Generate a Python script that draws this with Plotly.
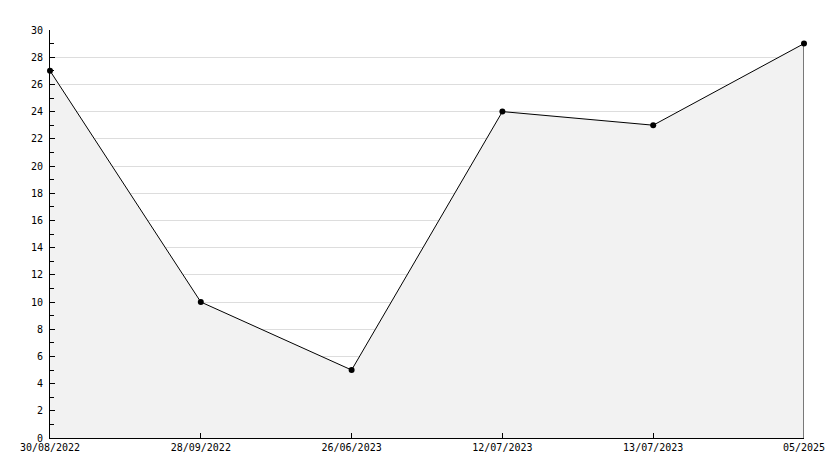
import plotly.graph_objects as go

dates = ["30/08/2022", "28/09/2022", "26/06/2023", "12/07/2023", "13/07/2023", "05/2025"]
values = [27, 10, 5, 24, 23, 29]

fig = go.Figure()
fig.add_trace(go.Scatter(
    x=dates, y=values, mode="lines+markers",
    fill="tozeroy", fillcolor="#f2f2f2",
    line=dict(color="black", width=1),
    marker=dict(color="black", size=6, symbol="circle"),
    hoverinfo="skip", showlegend=False, cliponaxis=False,
))
# right edge closing line of the filled area
fig.add_trace(go.Scatter(
    x=[dates[-1], dates[-1]], y=[0, values[-1]], mode="lines",
    line=dict(color="black", width=1), hoverinfo="skip", showlegend=False,
))

font = dict(family="DejaVu Sans Mono", size=10, color="black")
# page body has an 8px default margin, so the figure is sized to fit the window
fig.update_layout(
    width=826, height=460,
    margin=dict(l=42, r=30, t=22, b=30),
    paper_bgcolor="white", plot_bgcolor="white",
    font=font,
    xaxis=dict(
        type="category", range=[0, len(dates) - 1], automargin=False,
        showgrid=False, zeroline=False,
        showline=True, linecolor="black", linewidth=1,
        ticks="inside", ticklen=5, tickcolor="black",
        tickfont=font,
    ),
    yaxis=dict(
        range=[0, 30], dtick=2, tick0=0, automargin=False,
        showgrid=True, gridcolor="#dddddd", gridwidth=1,
        zeroline=False,
        showline=True, linecolor="black", linewidth=1,
        ticks="inside", ticklen=5, tickcolor="black",
        minor=dict(dtick=1, ticks="inside", ticklen=4, tickcolor="black", showgrid=False),
        tickfont=font, ticklabelstandoff=4,
    ),
)
fig.write_html("out.html")
